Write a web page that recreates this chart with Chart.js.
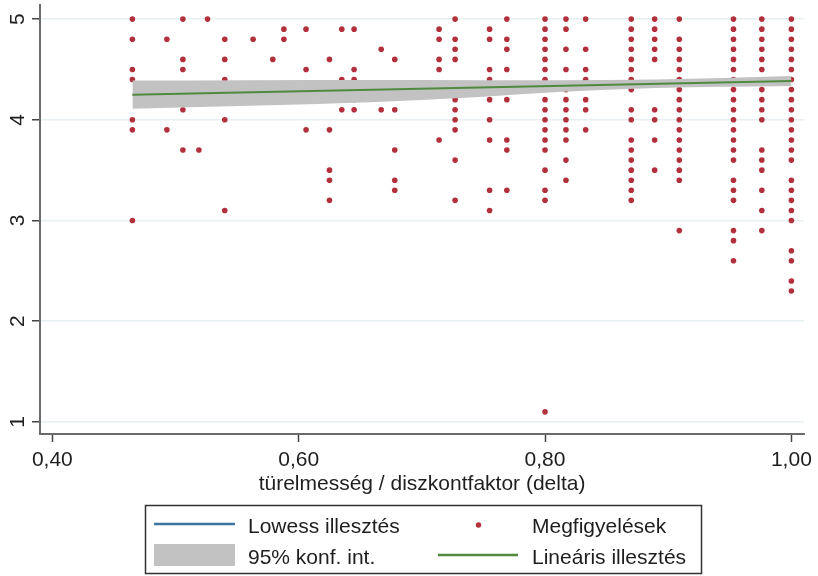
<!DOCTYPE html>
<html>
<head>
<meta charset="utf-8">
<script src="https://cdn.jsdelivr.net/npm/chart.js@4/dist/chart.umd.min.js"></script>
<style>
  html, body { margin: 0; padding: 0; background: #fff; }
  #wrap { width: 818px; height: 576px; }
</style>
</head>
<body>
<div id="wrap"><canvas id="chart"></canvas></div>
<script>
// delta levels (x) and the observed ratings at each level (y)
const deltaLevels = [0.465, 0.493, 0.506, 0.519, 0.526, 0.540, 0.563, 0.579, 0.588, 0.606,
  0.625, 0.635, 0.645, 0.667, 0.678, 0.714, 0.727, 0.755, 0.769, 0.800,
  0.817, 0.833, 0.870, 0.889, 0.909, 0.953, 0.976, 1.000];
const ratings = [
  [5.0, 4.8, 4.5, 4.4, 4.0, 3.9, 3.0],
  [4.8, 3.9],
  [5.0, 4.6, 4.5, 4.1, 3.7],
  [3.7],
  [5.0],
  [4.8, 4.6, 4.4, 4.0, 3.1],
  [4.8],
  [4.6],
  [4.9, 4.8],
  [4.9, 4.5, 3.9],
  [4.6, 3.9, 3.5, 3.4, 3.2],
  [4.9, 4.4, 4.1],
  [4.9, 4.5, 4.4, 4.2, 4.1],
  [4.7, 4.1],
  [4.6, 4.1, 3.7, 3.4, 3.3],
  [4.9, 4.8, 4.6, 4.5, 3.8],
  [5.0, 4.8, 4.7, 4.6, 4.2, 4.1, 4.0, 3.9, 3.6, 3.2],
  [4.9, 4.8, 4.5, 4.4, 4.2, 4.0, 3.8, 3.3, 3.1],
  [5.0, 4.8, 4.7, 4.5, 4.2, 3.8, 3.7, 3.3],
  [5.0, 4.9, 4.8, 4.7, 4.6, 4.5, 4.4, 4.2, 4.1, 4.0, 3.9, 3.8, 3.7, 3.5, 3.3, 3.2, 1.1],
  [5.0, 4.9, 4.7, 4.5, 4.3, 4.2, 4.1, 4.0, 3.9, 3.8, 3.6, 3.4],
  [5.0, 4.7, 4.5, 4.4, 4.2, 4.1, 3.9],
  [5.0, 4.9, 4.8, 4.7, 4.6, 4.5, 4.4, 4.3, 4.1, 4.0, 3.8, 3.7, 3.6, 3.5, 3.4, 3.3, 3.2],
  [5.0, 4.9, 4.8, 4.7, 4.6, 4.1, 4.0, 3.8, 3.5],
  [5.0, 4.8, 4.7, 4.6, 4.5, 4.4, 4.3, 4.2, 4.1, 4.0, 3.9, 3.8, 3.7, 3.6, 3.5, 3.4, 2.9],
  [5.0, 4.9, 4.8, 4.7, 4.6, 4.5, 4.4, 4.3, 4.2, 4.1, 4.0, 3.9, 3.8, 3.7, 3.6, 3.4, 3.3, 3.2, 2.9, 2.8, 2.6],
  [5.0, 4.9, 4.8, 4.7, 4.6, 4.5, 4.3, 4.2, 4.1, 4.0, 3.7, 3.6, 3.5, 3.3, 3.1, 2.9],
  [5.0, 4.9, 4.8, 4.7, 4.6, 4.5, 4.4, 4.3, 4.2, 4.1, 4.0, 3.9, 3.8, 3.7, 3.6, 3.4, 3.3, 3.2, 3.1, 3.0, 2.7, 2.6, 2.4, 2.3]
];

// linear fit and confidence band
const fitX = [0.465, 1.0];
const fitY = [4.25, 4.385];
const bandX = [0.465, 0.56, 0.658, 0.75, 0.81, 0.89, 1.0];
const bandUpper = [4.39, 4.393, 4.395, 4.393, 4.393, 4.40, 4.435];
const bandLower = [4.11, 4.14, 4.175, 4.23, 4.275, 4.315, 4.335];

const xTicks = [0.4, 0.6, 0.8, 1.0];
const yTicks = [1, 2, 3, 4, 5];

const xTitle = 'türelmesség / diszkontfaktor (delta)';
const legendLabels = ['Lowess illesztés', '95% konf. int.', 'Megfigyelések', 'Lineáris illesztés'];

const FONT = "'Liberation Sans', Arial, sans-serif";
const dotColor = '#b2303c';
const fitColor = '#4f8a3f';
const lowessColor = '#3b74a0';
const bandColor = '#c2c2c2';
const textColor = '#1e1e1e';

Chart.defaults.font.family = FONT;

const points = [];
deltaLevels.forEach(function (d, i) {
  ratings[i].forEach(function (r) { points.push({ x: d, y: r }); });
});

const xy = (xs, ys) => xs.map((x, i) => ({ x: x, y: ys[i] }));

// y tick labels rotated and the boxed legend
const extras = {
  id: 'extras',
  afterDraw(chart) {
    const ctx = chart.ctx;
    const ys = chart.scales.y;
    ctx.save();
    ctx.fillStyle = textColor;
    ctx.font = '21px ' + FONT;
    ctx.textAlign = 'center';
    ctx.textBaseline = 'alphabetic';
    yTicks.forEach(function (v) {
      ctx.save();
      ctx.translate(24, ys.getPixelForValue(v));
      ctx.rotate(-Math.PI / 2);
      ctx.fillText(String(v), 0, 0);
      ctx.restore();
    });

    ctx.strokeStyle = '#333';
    ctx.lineWidth = 1.5;
    ctx.strokeRect(145.5, 505.5, 556, 68);

    ctx.textAlign = 'left';
    ctx.lineWidth = 2.5;
    ctx.strokeStyle = lowessColor;
    ctx.beginPath(); ctx.moveTo(154, 524); ctx.lineTo(235, 524); ctx.stroke();
    ctx.fillStyle = bandColor;
    ctx.fillRect(154, 544, 81, 22);
    ctx.fillStyle = dotColor;
    ctx.beginPath(); ctx.arc(478.5, 525, 2.7, 0, Math.PI * 2); ctx.fill();
    ctx.strokeStyle = fitColor;
    ctx.beginPath(); ctx.moveTo(438, 555); ctx.lineTo(518, 555); ctx.stroke();

    ctx.fillStyle = textColor;
    ctx.fillText(legendLabels[0], 248, 533);
    ctx.fillText(legendLabels[1], 248, 564);
    ctx.fillText(legendLabels[2], 532, 533);
    ctx.fillText(legendLabels[3], 532, 564);
    ctx.restore();
  }
};

new Chart(document.getElementById('chart'), {
  type: 'scatter',
  data: {
    datasets: [
      {
        type: 'line', label: legendLabels[3], data: xy(fitX, fitY),
        borderColor: fitColor, borderWidth: 2, pointRadius: 0, fill: false
      },
      {
        type: 'line', label: 'upper', data: xy(bandX, bandUpper),
        borderWidth: 0, pointRadius: 0, cubicInterpolationMode: 'monotone',
        fill: '+1', backgroundColor: bandColor
      },
      {
        type: 'line', label: 'lower', data: xy(bandX, bandLower),
        borderWidth: 0, pointRadius: 0, cubicInterpolationMode: 'monotone', fill: false
      },
      {
        label: legendLabels[2], data: points,
        pointRadius: 2.8, pointBackgroundColor: dotColor, pointBorderWidth: 0
      }
    ]
  },
  options: {
    responsive: true,
    maintainAspectRatio: false,
    animation: false,
    layout: { padding: { top: 5, right: 11, bottom: 72, left: 0 } },
    plugins: { legend: { display: false }, tooltip: { enabled: false } },
    scales: {
      x: {
        type: 'linear', min: 0.39, max: 1.0103,
        afterBuildTicks: s => { s.ticks = xTicks.map(v => ({ value: v })); },
        afterFit: s => { s.height = 70; },
        ticks: {
          callback: v => v.toFixed(2).replace('.', ','),
          font: { size: 21 }, color: textColor, padding: 6,
          maxRotation: 0, autoSkip: false
        },
        grid: { drawOnChartArea: false, tickLength: 8, tickColor: '#444', tickWidth: 1.5 },
        border: { color: '#6b6b6b', width: 2 },
        title: {
          display: true, text: xTitle, color: textColor,
          font: { size: 21 }, padding: { top: 0, bottom: 7 }
        }
      },
      y: {
        type: 'linear', min: 0.88, max: 5.14,
        afterBuildTicks: s => { s.ticks = yTicks.map(v => ({ value: v })); },
        afterFit: s => { s.width = 40; },
        ticks: { display: false },
        grid: { color: '#e6eff1', lineWidth: 1.5, tickLength: 8, tickColor: '#444', tickWidth: 1.5 },
        border: { color: '#6b6b6b', width: 2 }
      }
    }
  },
  plugins: [extras]
});
</script>
</body>
</html>
